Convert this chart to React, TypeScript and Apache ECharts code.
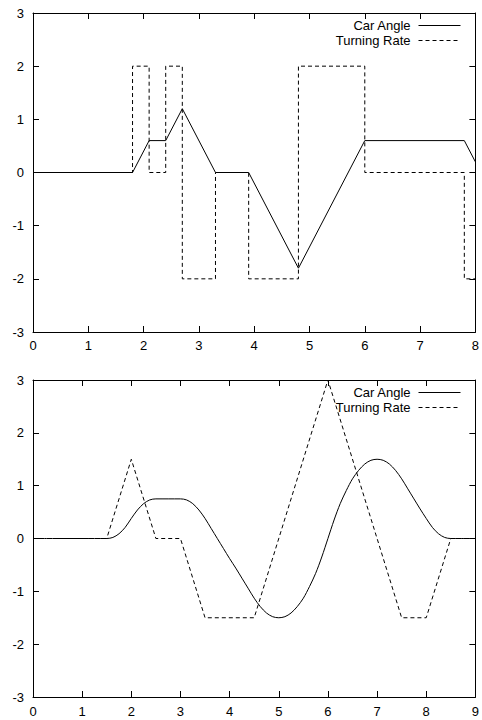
import React, { useEffect, useRef } from "react";
import * as echarts from "echarts";

const seriesNames = ["Car Angle", "Turning Rate"];
const yTicks = [-3, 3];

// Top plot (x 0..8)
const topXRange = [0, 8];
const topCarAngle: number[][] = [
  [0, 0], [1.8, 0], [2.1, 0.6], [2.4, 0.6], [2.7, 1.2], [3.3, 0], [3.9, 0],
  [4.8, -1.8], [6, 0.6], [7.8, 0.6], [8, 0.2],
];
// value held from x until next x (step)
const topTurningRate: number[][] = [
  [0, 0], [1.8, 2], [2.1, 0], [2.4, 2], [2.7, -2], [3.3, 0], [3.9, -2],
  [4.8, 2], [6, 0], [7.8, -2], [8, -2],
];

// Bottom plot (x 0..9)
const bottomXRange = [0, 9];
const bottomCarAngle: number[][] = [
  [0, 0], [0.5, 0], [1, 0], [1.5, 0], [1.625, 0.02], [1.75, 0.09], [1.875, 0.21],
  [2, 0.38], [2.125, 0.54], [2.25, 0.66], [2.375, 0.73], [2.5, 0.75],
  [2.75, 0.75], [3, 0.75], [3.125, 0.73], [3.25, 0.66], [3.375, 0.54],
  [3.5, 0.38], [3.625, 0.19], [3.75, 0], [3.875, -0.19], [4, -0.38],
  [4.125, -0.56], [4.25, -0.75], [4.375, -0.94], [4.5, -1.13], [4.625, -1.29],
  [4.75, -1.41], [4.875, -1.48], [5, -1.5], [5.125, -1.48], [5.25, -1.41],
  [5.375, -1.29], [5.5, -1.13], [5.625, -0.91], [5.75, -0.66], [5.875, -0.35],
  [6, 0], [6.125, 0.35], [6.25, 0.66], [6.375, 0.91], [6.5, 1.13],
  [6.625, 1.29], [6.75, 1.41], [6.875, 1.48], [7, 1.5], [7.125, 1.48],
  [7.25, 1.41], [7.375, 1.29], [7.5, 1.13], [7.625, 0.94], [7.75, 0.75],
  [7.875, 0.56], [8, 0.38], [8.125, 0.21], [8.25, 0.09], [8.375, 0.02],
  [8.5, 0], [9, 0],
];
const bottomTurningRate: number[][] = [
  [0, 0], [1.5, 0], [2, 1.5], [2.5, 0], [3, 0], [3.5, -1.5], [4.5, -1.5],
  [6, 3], [7.5, -1.5], [8, -1.5], [8.5, 0], [9, 0],
];

const FONT = "Liberation Sans, Arial, Helvetica, sans-serif";

export default function App() {
  const ref = useRef<HTMLDivElement>(null);
  useEffect(() => {
    if (!ref.current) return;
    const chart = echarts.init(ref.current, undefined, { renderer: "svg" });
    const axisLine = { show: true, onZero: false, lineStyle: { color: "#000", width: 1 } };
    const tick = { show: true, inside: true, length: 6, lineStyle: { color: "#000", width: 1 } };
    const label = (margin: number) => ({
      show: true, color: "#000", fontSize: 13, fontFamily: FONT, margin,
    });
    const xAxes: any[] = [];
    const yAxes: any[] = [];
    [topXRange, bottomXRange].forEach((r, gi) => {
      xAxes.push({
        type: "value", gridIndex: gi, min: r[0], max: r[1], interval: 1,
        position: "bottom", axisLine, axisTick: tick,
        axisLabel: label(gi === 0 ? 7 : 8), splitLine: { show: false },
      });
      xAxes.push({
        type: "value", gridIndex: gi, min: r[0], max: r[1], interval: 1,
        position: "top", axisLine, axisTick: tick,
        axisLabel: { show: false }, splitLine: { show: false },
      });
      yAxes.push({
        type: "value", gridIndex: gi, min: yTicks[0], max: yTicks[1], interval: 1,
        position: "left", axisLine, axisTick: tick,
        axisLabel: label(9), splitLine: { show: false },
      });
      yAxes.push({
        type: "value", gridIndex: gi, min: yTicks[0], max: yTicks[1], interval: 1,
        position: "right", axisLine, axisTick: tick,
        axisLabel: { show: false }, splitLine: { show: false },
      });
    });
    const solid = { color: "#000", width: 1, type: "solid" };
    const dashed = { color: "#000", width: 1, type: [4, 3] };
    const legendBase = {
      right: 21, orient: "horizontal", align: "right", itemWidth: 42, itemHeight: 13,
      padding: 0, selectedMode: false,
      itemStyle: { color: "transparent", borderColor: "transparent", borderWidth: 0, opacity: 0 },
      lineStyle: { width: 1 },
      textStyle: {
        fontSize: 13, lineHeight: 13, color: "#000", fontFamily: FONT, padding: [0, 3, 0, 0],
      },
    };
    chart.setOption({
      animation: false,
      backgroundColor: "#fff",
      color: ["#000", "#000"],
      grid: [
        { left: 33, top: 13, width: 444, height: 319 },
        { left: 33, top: 380, width: 444, height: 317 },
      ],
      xAxis: xAxes,
      yAxis: yAxes,
      legend: [
        { ...legendBase, top: 19, data: [seriesNames[0]] },
        { ...legendBase, top: 34, data: [seriesNames[1]] },
        { ...legendBase, top: 386, data: [seriesNames[0]] },
        { ...legendBase, top: 401, data: [seriesNames[1]] },
      ],
      series: [
        {
          name: seriesNames[0], type: "line", xAxisIndex: 0, yAxisIndex: 0,
          data: topCarAngle, symbol: "none", lineStyle: solid, itemStyle: { color: "#000" },
        },
        {
          name: seriesNames[1], type: "line", xAxisIndex: 0, yAxisIndex: 0, step: "end",
          data: topTurningRate, symbol: "none", lineStyle: dashed, itemStyle: { color: "#000" },
        },
        {
          name: seriesNames[0], type: "line", xAxisIndex: 2, yAxisIndex: 2, smooth: 0.3,
          data: bottomCarAngle, symbol: "none", lineStyle: solid, itemStyle: { color: "#000" },
        },
        {
          name: seriesNames[1], type: "line", xAxisIndex: 2, yAxisIndex: 2,
          data: bottomTurningRate, symbol: "none", lineStyle: dashed, itemStyle: { color: "#000" },
        },
      ],
    });
    return () => chart.dispose();
  }, []);
  return (
    <div
      ref={ref}
      style={{ position: "absolute", left: 0, top: 0, width: 482, height: 720, background: "#fff" }}
    />
  );
}
